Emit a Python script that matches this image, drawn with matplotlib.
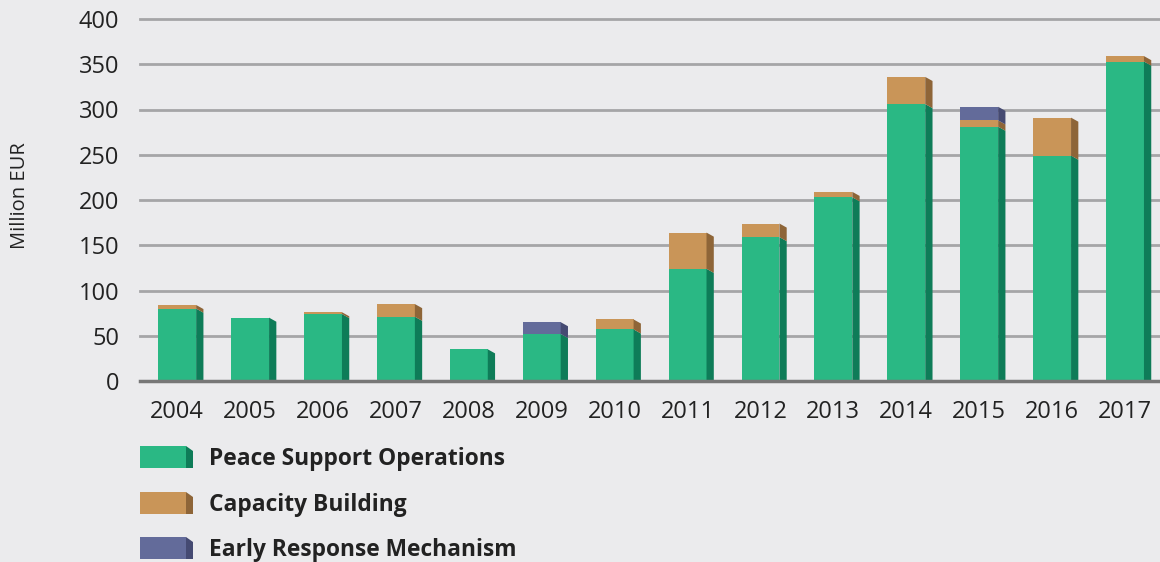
import matplotlib.pyplot as plt
from matplotlib.patches import Polygon, Rectangle

# data (million EUR)
years = ['2004', '2005', '2006', '2007', '2008', '2009', '2010',
         '2011', '2012', '2013', '2014', '2015', '2016', '2017']
peace_support = [80, 70, 74, 71, 35, 52, 57, 124, 159, 203, 306, 281, 249, 353]
capacity_building = [4, 0, 2, 14, 0, 0, 11, 40, 15, 6, 30, 7, 42, 6]
early_response = [0, 0, 0, 0, 0, 13, 0, 0, 0, 0, 0, 15, 0, 0]
series_names = ['Peace Support Operations', 'Capacity Building', 'Early Response Mechanism']

front_cols = ['#2ab884', '#c99558', '#636b9a']
side_cols = ['#0e7c58', '#8e6538', '#454a72']
bg = '#ebebed'
txt = '#222222'

plt.rcParams['font.family'] = ['Open Sans', 'DejaVu Sans']

fig = plt.figure(figsize=(11.6, 5.62), dpi=100, facecolor=bg)
ax = fig.add_axes([140 / 1160, 1 - 381 / 562, 1 - 140 / 1160, 362 / 562])
ax.set_facecolor(bg)

bar_w = 0.52
side_w = 0.10
drop = 4.5  # slant of the side face (data units)

series = [peace_support, capacity_building, early_response]
for i in range(len(years)):
    bottom = 0
    for s, vals in enumerate(series):
        v = vals[i]
        if v <= 0:
            continue
        x0 = i - bar_w / 2
        x1 = i + bar_w / 2
        top = bottom + v
        ax.add_patch(Rectangle((x0, bottom), bar_w, v, facecolor=front_cols[s],
                               edgecolor='none', zorder=3))
        yb = max(bottom - drop, 0) if bottom > 0 else 0
        ax.add_patch(Polygon([(x1, bottom), (x1, top), (x1 + side_w, top - drop),
                              (x1 + side_w, yb)], closed=True,
                             facecolor=side_cols[s], edgecolor='none', zorder=3))
        bottom = top

ax.set_xlim(-0.51, 13.48)
ax.set_ylim(0, 400)
ax.set_xticks(range(len(years)))
ax.set_xticklabels(years)
ax.set_yticks(range(0, 401, 50))

for y in range(50, 401, 50):
    ax.axhline(y, color='#a5a5a7', lw=2, zorder=1, clip_on=False)
ax.axhline(0, color='#777777', lw=2.5, zorder=4, clip_on=False)

for sp in ax.spines.values():
    sp.set_visible(False)
ax.tick_params(axis='both', length=0, labelsize=17, colors=txt)
ax.tick_params(axis='x', pad=14)
ax.tick_params(axis='y', pad=15)

fig.text(20 / 1160, 1 - 196 / 562, 'Million EUR', rotation=90, ha='center',
         va='center', fontsize=14.5, color=txt)

# legend with 3D-looking swatches
leg_y = [457, 503, 548]
for s, name in enumerate(series_names):
    yc = 1 - leg_y[s] / 562
    h = 22 / 562
    fig.patches.append(Rectangle((140 / 1160, yc - h / 2), 46 / 1160, h,
                                 transform=fig.transFigure, facecolor=front_cols[s],
                                 edgecolor='none'))
    fig.patches.append(Polygon([(186 / 1160, yc - h / 2), (186 / 1160, yc + h / 2),
                                (193 / 1160, yc + h / 2 - 5 / 562), (193 / 1160, yc - h / 2)],
                               closed=True, transform=fig.transFigure,
                               facecolor=side_cols[s], edgecolor='none'))
    fig.text(209 / 1160, yc - 2 / 562, name, ha='left', va='center', fontsize=16.4,
             fontweight='bold', color=txt)

fig.savefig('out.png', dpi=100, facecolor=bg)
